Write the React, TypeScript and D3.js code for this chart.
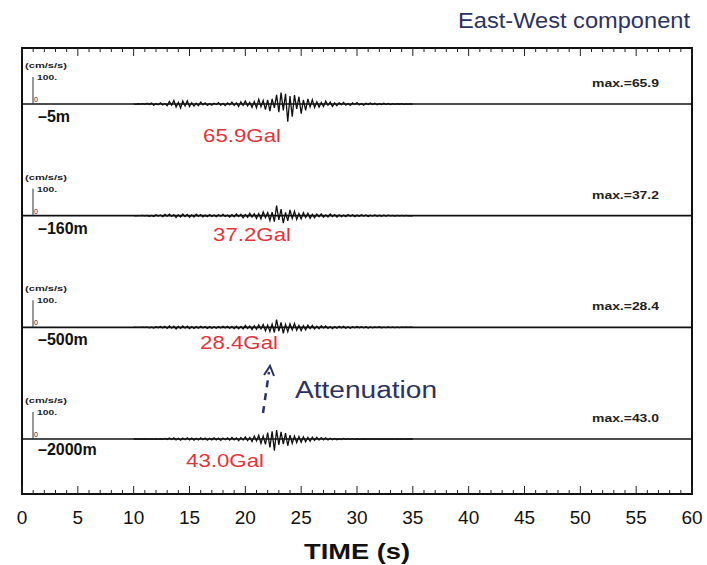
import React from 'react';
import * as d3 from 'd3';

// ---------- data ----------
const TIME_TICKS = [0, 5, 10, 15, 20, 25, 30, 35, 40, 45, 50, 55, 60];
const DEPTHS = ['-5m', '-160m', '-500m', '-2000m'];
const MAX_VALUES = [65.9, 37.2, 28.4, 43.0];
const START_TIME = 10; // s, first sample of each array
const SAMPLE_STEP = 0.2; // s

// acceleration samples (cm/s/s), t = 10.0 .. 35.0 s
const trace5m = [
  0.5, -1, 0.8, -0.4, 1.2, -1.5,
  2.5, -1.8, 3.2, -4, 1.5, -2.8, 4.5, -3.5, 2, -6,
  9, -4, 13, -11, 6, -15, 11, -7, 12, -9,
  5, -8, 3, -6, 7, -3, 4, -5, 2, -4,
  3, -2, 5, -4, 2, -6, 4, -3, 7, -5,
  4, -9, 8, -5, 11, -7, 6, -12, 9, -14,
  17, -10, 13, -21, 15,
  -26, 19, -14, 34, -30,
  42, -24, 38, -65.9, 29,
  -47, 33, -18, 27, -36,
  15, -24, 19, -11, 16,
  -13, 8, -12, 6, -9, 11, -5, 7, -9, 4,
  -6, 5, -3, 6, -4, 2, -5, 4, -2, 5,
  -3, 2, -4, 3, -1.5, 3.5, -2, 2.5, -3, 1.5,
  -2, 2.5, -1, 1.8, -2.2, 1, -1.5, 1.2, -0.8, 1, -1.2, 0.6, -0.8, 0.5, -0.3,
];
const trace160m = [
  0.3, -0.5, 0.4, -0.2, 0.7, -0.6,
  1.2, -2, 1, -2.8, 3.5, -1.5, 2.5, -3.8, 4.5, -2,
  5.5, -3, 4, -6.5, 3, -5, 6, -3.5, 4.5, -6,
  3, -5, 5.5, -2.5, 4, -4.5, 2, -3.5, 4, -2.5,
  2.5, -4, 3.5, -2, 4.5, -3, 2, -5, 3.5, -4,
  6, -3.5, 5, -8, 4, -6.5, 9, -5, 7, -10,
  8, -12, 14, -7, 11,
  -18, 13, -22, 37.2, -16,
  24, -28, 12, -19, 21,
  -10, 16, -14, 8, -12,
  11, -7, 9, -10, 5,
  -8, 6, -4, 7, -6, 3, -5, 6, -3, 4,
  -5, 3, -4, 2.5, -3.5, 4, -2, 3, -3.5, 2,
  -2.5, 3, -1.5, 2.5, -3, 2, -1.5, 2.5, -2, 1.5,
  -2, 1.5, -1.8, 2, -1, 1.2, -1.5, 0.8, -1, 1, -0.6, 0.8, -0.5, 0.4, -0.3,
];
const trace500m = [
  0.3, -0.4, 0.2, -0.5, 0.6, -0.3,
  1, -1.5, 0.8, -2.2, 2.5, -1.2, 3, -2, 3.5, -4,
  5, -3, 4.5, -6, 3, -4, 5.5, -3, 4, -5,
  3, -4, 2.5, -3.5, 4, -2, 3, -4, 2.5, -3,
  2, -3.5, 3, -2.5, 4, -2, 3.5, -3, 2.5, -4.5,
  4, -5.5, 3.5, -6, 7, -4, 5, -8, 6, -7,
  9, -6, 11, -13, 8,
  -15, 12, -19, 28.4, -14,
  18, -22, 11, -16, 13,
  -9, 14, -11, 7, -12,
  6, -9, 8, -5, 7,
  -6, 4, -5, 6, -3, 5, -4, 3, -5, 3,
  -3, 4, -2, 3.5, -3, 2, -3.5, 2.5, -2, 3,
  -2, 2.5, -1.5, 2, -2.5, 1.5, -2, 1.5, -1, 2,
  -1.5, 1, -1.2, 1.5, -0.8, 1, -1, 0.6, -0.8, 0.7, -0.5, 0.6, -0.4, 0.3, -0.3,
];
const trace2000m = [
  0, 0, 0, 0, 0, 0,
  0.3, -0.2, 0.6, -0.4, 0.9, -1, 0.8, -1.6, 2.2, -1.5,
  3.5, -2, 4, -3.5, 2.5, -4.5, 3, -2.5, 4.5, -3,
  3, -4, 2.5, -3.5, 4, -2.5, 3.5, -4.5, 2.5, -3,
  4.5, -3, 3, -5, 3.5, -2.5, 4, -4, 5.5, -3,
  4, -6.5, 5, -4, 8, -6, 5.5, -9, 11, -7,
  14, -16, 11, -20, 24,
  -31, 28, -43.0, 33, -22,
  26, -19, 22, -25, 14,
  -16, 11, -13, 9, -12,
  8, -10, 6, -8, 7,
  -5, 6, -4, 5, -3, 4.5, -3.5, 2.5, -3, 2,
  -2.5, 1.5, -2, 1.8, -1.2, 1.5, -1, 1.2, -1.4, 0.8,
  -1, 0.7, -0.9, 0.6, -0.5, 0.8, -0.4, 0.5, -0.6, 0.3,
  -0.4, 0.3, -0.2, 0.4, -0.3, 0.2, -0.2, 0.1, -0.2, 0.1, -0.1, 0.1, 0, 0, 0,
];
const TRACES = [trace5m, trace160m, trace500m, trace2000m];

// ---------- layout ----------
const W = 707;
const H = 565;
const LEFT = 22;
const RIGHT = 692;
const TOP = 48;
const BOTTOM = 494;
const FONT = '"Liberation Sans", Arial, Helvetica, sans-serif';
const NAVY = '#2c3262';
const RED = '#e3343b';

// per-trace label layout (x, dy from baseline)
const GAL_LABEL_X = [203, 213, 200, 186];
const GAL_LABEL_DY = [38, 25, 22, 28];

export default function App() {
  const x = d3.scaleLinear().domain([0, 60]).range([LEFT, RIGHT]);
  const base = d3.scaleLinear().domain([0, 3]).range([104, 439]);
  const amp = d3.scaleLinear().domain([0, 100]).range([0, -27]);
  const minorTicks = d3.range(0, 61, 1);

  return (
    <svg
      width={W}
      height={H}
      style={{ position: 'absolute', left: 0, top: 0, background: '#fff' }}
      fontFamily={FONT}
    >
      <rect x={0} y={0} width={W} height={H} fill="#fff" />
      {/* title */}
      <text x={458} y={28} fontSize={22} fill={NAVY} textLength={232} lengthAdjust="spacingAndGlyphs">
        East-West component
      </text>

      {/* frame */}
      <rect x={LEFT} y={TOP} width={RIGHT - LEFT} height={BOTTOM - TOP} fill="none" stroke="#111" strokeWidth={2} />

      {/* ticks top & bottom */}
      {minorTicks.map((t) => {
        const major = t % 5 === 0;
        const len = major ? 8 : 4;
        return (
          <g key={'tk' + t}>
            <line x1={x(t)} x2={x(t)} y1={TOP} y2={TOP + len} stroke="#222" strokeWidth={1} />
            <line x1={x(t)} x2={x(t)} y1={BOTTOM} y2={BOTTOM - len} stroke="#222" strokeWidth={1} />
          </g>
        );
      })}

      {/* tick labels */}
      {TIME_TICKS.map((t) => (
        <text key={'tl' + t} x={x(t)} y={524} fontSize={19} textAnchor="middle" fill="#111">
          {t}
        </text>
      ))}
      <text x={357} y={559} fontSize={22} fontWeight="bold" textAnchor="middle" fill="#111" textLength={106} lengthAdjust="spacingAndGlyphs">
        TIME (s)
      </text>

      {/* traces */}
      {TRACES.map((tr, k) => {
        const b = base(k);
        const line = d3
          .line<number>()
          .x((_, i) => x(START_TIME + i * SAMPLE_STEP))
          .y((v) => b + amp(v));
        return (
          <g key={'tr' + k}>
            <line x1={LEFT} x2={RIGHT} y1={b} y2={b} stroke="#111" strokeWidth={1.6} />
            <path d={line(tr) || ''} fill="none" stroke="#111" strokeWidth={1.3} strokeLinejoin="miter" />
            {/* scale bar */}
            <line x1={33} x2={33} y1={b} y2={b + amp(100)} stroke="#333" strokeWidth={1} />
            <text x={25} y={b - 36} fontSize={7} fontWeight="bold" fill="#222" textLength={42} lengthAdjust="spacingAndGlyphs">
              (cm/s/s)
            </text>
            <text x={37} y={b - 24} fontSize={7} fontWeight="bold" fill="#222" textLength={20} lengthAdjust="spacingAndGlyphs">
              100.
            </text>
            <text x={34} y={b - 2} fontSize={7} fill="#222">
              0
            </text>
            {/* depth */}
            <text x={38} y={b + (k === 3 ? 16 : 18)} fontSize={16} fontWeight="bold" fill="#111">
              {'–' + DEPTHS[k].slice(1)}
            </text>
            {/* max label */}
            <text x={659} y={b - 17} fontSize={10} fontWeight="bold" fill="#222" textAnchor="end" textLength={67} lengthAdjust="spacingAndGlyphs">
              {'max.=' + MAX_VALUES[k].toFixed(1)}
            </text>
            {/* red Gal label */}
            <text x={GAL_LABEL_X[k]} y={b + GAL_LABEL_DY[k]} fontSize={19} fill={RED} textLength={78} lengthAdjust="spacingAndGlyphs">
              {MAX_VALUES[k].toFixed(1) + 'Gal'}
            </text>
          </g>
        );
      })}

      {/* attenuation arrow */}
      <line x1={263} x2={269} y1={413} y2={372} stroke={NAVY} strokeWidth={2.5} strokeDasharray="7,6" />
      <path d="M264,375 L270,366 L274,376" fill="none" stroke={NAVY} strokeWidth={2} />
      <text x={295} y={398} fontSize={23} fill={NAVY} textLength={142} lengthAdjust="spacingAndGlyphs">
        Attenuation
      </text>
    </svg>
  );
}
